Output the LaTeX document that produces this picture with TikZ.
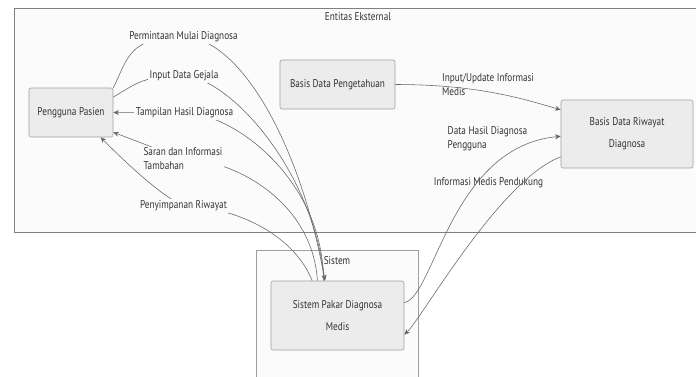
\documentclass[tikz,border=0pt]{standalone}
\usepackage{fontspec}
\setmainfont[FakeStretch=0.82]{PT Sans}
\usetikzlibrary{arrows.meta}
\definecolor{boxfill}{HTML}{ECECEC}
\definecolor{boxline}{HTML}{A0A0A0}
\definecolor{grpfill}{HTML}{FBFBFB}
\definecolor{grpline}{HTML}{808080}
\definecolor{edgecol}{HTML}{666666}
\definecolor{txtcol}{HTML}{333333}
\tikzset{
	entity/.style={draw=boxline, fill=boxfill, rounded corners=1.5pt, align=center, text=txtcol, font=\fontsize{8}{15.5}\selectfont, inner sep=0pt},
	group/.style={draw=grpline, fill=grpfill, line width=0.6pt},
	flow/.style={draw=edgecol, line width=0.4pt, -{Stealth[length=4pt,width=3.5pt]}},
	lbl/.style={fill=grpfill, inner sep=1pt, align=left, text=txtcol, font=\fontsize{8}{10}\selectfont},
}
\begin{document}
\begin{tikzpicture}[x=0.025cm,y=-0.025cm]
	\useasboundingbox (0,0) rectangle (696,376);
	\draw[group] (14,8) rectangle (702,232);
	\draw[group,draw=boxline] (256,250) rectangle (418,384);
	\node[text=txtcol,font=\fontsize{8}{10}\selectfont] (tEkst) at (358,17) {Entitas Eksternal};
	\node[text=txtcol,font=\fontsize{8}{10}\selectfont] (tSis) at (337,261) {Sistem};
	\node[entity,minimum width=2.1cm,minimum height=1.225cm] (pp) at (71,112.5) {Pengguna Pasien};
	\node[entity,minimum width=2.875cm,minimum height=1.225cm] (bdp) at (337.5,84.5) {Basis Data Pengetahuan};
	\node[entity,minimum width=3.3cm,minimum height=1.7cm] (bdr) at (627,134) {Basis Data Riwayat\\Diagnosa};
	\node[entity,minimum width=3.325cm,minimum height=1.725cm] (sp) at (337.5,315.5) {Sistem Pakar Diagnosa\\Medis};
	\coordinate (c1) at (183.5,37);
	\coordinate (c2) at (184,76);
	\coordinate (c3) at (184.5,113);
	\coordinate (c4) at (183,159);
	\coordinate (c5) at (183.5,206);
	\draw[flow] (pp.north east) .. controls +(15,-30) and +(-55,0) .. (c1) .. controls +(55,0) and +(-25,-140) .. (sp.110);
	\draw[flow] (pp.20) .. controls +(25,-15) and +(-40,0) .. (c2) .. controls +(40,0) and +(-15,-120) .. (sp.110);
	\draw[flow] (sp.112) .. controls +(0,-100) and +(50,0) .. (c3) -- (pp.east);
	\draw[flow] (sp.120) .. controls +(-5,-80) and +(50,0) .. (c4) -- (pp.-25);
	\draw[flow] (sp.126) .. controls +(-20,-50) and +(45,0) .. (c5) .. controls +(-23.5,-11) and +(25,25) .. (pp.-40);
	\node[lbl] (l1) at (c1) {Permintaan Mulai Diagnosa};
	\node[lbl] (l2) at (c2) {Input Data Gejala};
	\node[lbl] (l3) at (c3) {Tampilan Hasil Diagnosa};
	\node[lbl] (l4) at (c4) {Saran dan Informasi\\Tambahan};
	\node[lbl] (l5) at (c5) {Penyimpanan Riwayat};
	\node[lbl] (l6) at (488,85) {Input/Update Informasi\\Medis};
	\node[lbl] (l7) at (487.5,139) {Data Hasil Diagnosa\\Pengguna};
	\node[lbl] (l8) at (488.5,183) {Informasi Medis Pendukung};
	\draw[flow] (bdp.east) .. controls +(80,0) and +(-40,-12) .. (bdr.160);
	\draw[flow] (sp.11) .. controls +(30,-5) and +(-110,10) .. (bdr.182);
	\draw[flow] (bdr.199) .. controls +(-61,23) and +(18,-17) .. (sp.-16);
\end{tikzpicture}
\end{document}
